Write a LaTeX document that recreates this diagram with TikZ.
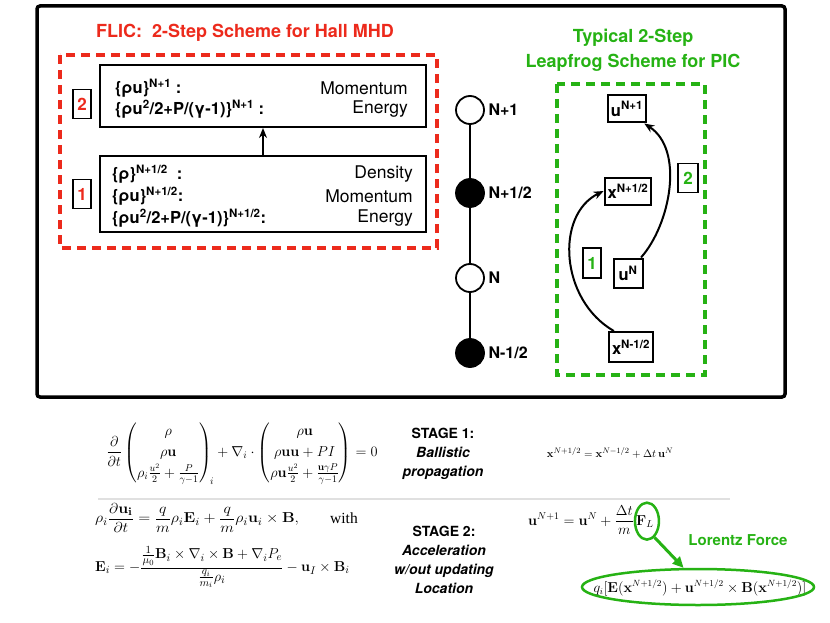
\documentclass[tikz,border=0pt]{standalone}
\usepackage{amsmath}
\usepackage[no-math]{fontspec}
\setmainfont{TeX Gyre Heros}
\newfontfamily\serifw{Liberation Serif}
\usetikzlibrary{shapes.geometric,arrows.meta,calc}
\definecolor{flicred}{RGB}{236,42,28}
\definecolor{picgreen}{RGB}{38,178,20}
\begin{document}
\begin{tikzpicture}[x=1pt,y=-1pt,
  bx/.style={draw, line width=2pt, inner sep=0pt},
  numbox/.style={draw, line width=1.8pt, minimum width=18pt, minimum height=29pt, inner sep=0pt, font=\bfseries\fontsize{17}{17}\selectfont},
  dot/.style={circle, draw, line width=1.8pt, minimum size=28pt, inner sep=0pt},
  tlabel/.style={anchor=west, font=\bfseries\fontsize{16}{16}\selectfont},
  lt/.style={anchor=west, inner sep=0pt, font=\bfseries\fontsize{16.5}{16.5}\selectfont},
  rt/.style={anchor=east, inner sep=0pt, font=\fontsize{17.5}{17.5}\selectfont},
  pic/.style={draw, line width=2pt, inner sep=3pt, minimum height=27pt, font=\bfseries\fontsize{16.5}{16.5}\selectfont},
  arr/.style={line width=2pt, -{Stealth[length=10pt,width=8pt]}},
  dashframe/.style={line width=3.5pt, dash pattern=on 9pt off 6pt},
  mth/.style={inner sep=0pt, font=\fontsize{13}{15}\selectfont},
  stage/.style={align=center, font=\bfseries\fontsize{14}{19}\selectfont}
]
\useasboundingbox (0,0) rectangle (830,623);

% outer frame
\draw[line width=3.5pt, rounded corners=3pt] (37,6) rectangle (785,397);

% ---------- FLIC part ----------
\node[text=flicred, font=\bfseries\fontsize{18}{20}\selectfont] (fltitle) at (245,33) {FLIC:\ \ 2-Step Scheme for Hall MHD};
\draw[flicred, dashframe] (60,55) rectangle (437,248);

\node[bx, minimum width=326pt, minimum height=62pt] (box2) at (263,96) {};
\node[bx, minimum width=326pt, minimum height=76pt] (box1) at (263,194) {};
\draw[arr] (box1.north) -- (box2.south);

\node[numbox, text=flicred] (n2) at (82,104) {2};
\node[numbox, text=flicred] (n1) at (82,194) {1};

\node[lt] (b2a) at (115,88) {\{ρu\}\textsuperscript{N+1} :};
\node[lt] (b2b) at (115,109) {\{ρu\textsuperscript{2}/2+P/(γ-1)\}\textsuperscript{N+1} :};
\node[rt] (b2c) at (408,88) {Momentum};
\node[rt] (b2d) at (408,109) {Energy};

\node[lt] (b1a) at (112,174) {\{ρ\}\textsuperscript{N+1/2}\ \ :};
\node[lt] (b1b) at (112,196) {\{ρu\}\textsuperscript{N+1/2}:};
\node[lt] (b1c) at (112,218) {\{ρu\textsuperscript{2}/2+P/(γ-1)\}\textsuperscript{N+1/2}:};
\node[rt] (b1d) at (413,174) {Density};
\node[rt] (b1e) at (413,196) {Momentum};
\node[rt] (b1f) at (413,218) {Energy};

% ---------- time line ----------
\node[dot, fill=white] (t1) at (470,110) {};
\node[dot, fill=black] (t2) at (470,193) {};
\node[dot, fill=white] (t3) at (470,278) {};
\node[dot, fill=black] (t4) at (470,353) {};
\draw[line width=1.8pt] (t1) -- (t2) -- (t3) -- (t4);
\node[tlabel] (l1) at (485,110) {N+1};
\node[tlabel] (l2) at (485,193) {N+1/2};
\node[tlabel] (l3) at (485,278) {N};
\node[tlabel] (l4) at (485,353) {N-1/2};

% ---------- PIC part ----------
\node[text=picgreen, align=center, font=\bfseries\fontsize{18}{25}\selectfont] (pictitle) at (633,50) {Typical 2-Step\\Leapfrog Scheme for PIC};
\draw[picgreen, dashframe] (557,84) rectangle (705,375);

\node[pic] (uNp) at (627,109) {u\textsuperscript{N+1}};
\node[pic] (xNp) at (628,191) {x\textsuperscript{N+1/2}};
\node[pic, minimum width=29pt, minimum height=29pt] (uN) at (628,273) {u\textsuperscript{N}};
\node[pic, minimum height=30pt] (xNm) at (631,347) {x\textsuperscript{N-1/2}};

\node[numbox, text=picgreen, minimum height=30pt] (g1) at (592,263) {1};
\node[numbox, text=picgreen, minimum width=20pt] (g2) at (688,178) {2};

\draw[arr] (xNm.137) .. controls (560,300) and (555,215) .. (xNp.west);
\draw[arr] (uN.50) .. controls (670,225) and (685,150) .. (uNp.-40);

% ---------- equations ----------
\draw[black!12, line width=1.5pt] (98,499) -- (730,499);

\node[mth, font=\fontsize{14}{16}\selectfont] (eq1) at (242,453) {\renewcommand{\arraystretch}{1.3}$\displaystyle
\frac{\partial}{\partial t}\begin{pmatrix}\rho\\ \rho\mathbf{u}\\ \rho_i\frac{u^2}{2}+\frac{P}{\gamma-1}\end{pmatrix}_{\!i}
+\nabla_i\cdot\begin{pmatrix}\rho\mathbf{u}\\ \rho\mathbf{u}\mathbf{u}+PI\\ \rho\mathbf{u}\frac{u^2}{2}+\frac{\mathbf{u}\gamma P}{\gamma-1}\end{pmatrix}=0$};

\node[stage] (st1) at (443,454) {STAGE 1:\\\itshape Ballistic\\\itshape propagation};
\node[mth, font=\fontsize{11}{13}\selectfont] (eqx) at (610,453) {$\mathbf{x}^{N+1/2}=\mathbf{x}^{N-1/2}+\Delta t\,\mathbf{u}^{N}$};

\node[mth, anchor=west, font=\fontsize{15.5}{17}\selectfont] (eq2) at (95,518) {\scalebox{1.1}[1]{$\displaystyle\rho_i\frac{\partial\mathbf{u_i}}{\partial t}=\frac{q}{m}\rho_i\mathbf{E}_i+\frac{q}{m}\rho_i\mathbf{u}_i\times\mathbf{B},$}};
\node[mth, anchor=west, font=\fontsize{15.5}{17}\selectfont] (with) at (330,518) {\serifw with};
\node[mth, anchor=west, font=\fontsize{15.5}{17}\selectfont] (eq3) at (95,567) {$\displaystyle\mathbf{E}_i=-\frac{\frac{1}{\mu_0}\mathbf{B}_i\times\nabla_i\times\mathbf{B}+\nabla_i P_e}{\frac{q_i}{m_i}\rho_i}-\mathbf{u}_I\times\mathbf{B}_i$};

\node[stage] (st2) at (444,560) {STAGE 2:\\\itshape Acceleration\\\itshape w/out updating\\\itshape Location};

\node[mth, anchor=base west, font=\fontsize{14}{16}\selectfont] (equ) at (528,525) {$\displaystyle\mathbf{u}^{N+1}=\mathbf{u}^{N}+\frac{\Delta t}{m}$};
\node[mth, anchor=base west, font=\fontsize{14}{16}\selectfont] (FL) at ($(equ.base east)+(2,0)$) {$\mathbf{F}_L$};
\node[draw=picgreen, line width=2.5pt, ellipse, minimum width=24pt, minimum height=37pt, inner sep=0pt] (FLell) at ($(FL.center)+(2,0)$) {};

\node[text=picgreen, font=\bfseries\fontsize{15}{15}\selectfont] (lor) at (738,540) {Lorentz Force};

\node[mth, font=\fontsize{13.3}{16}\selectfont] (lf) at (700,588) {$q_i[\mathbf{E}(\mathbf{x}^{N+1/2})+\mathbf{u}^{N+1/2}\times\mathbf{B}(\mathbf{x}^{N+1/2})]$};
\node[draw=picgreen, line width=2.5pt, ellipse, minimum width=232pt, minimum height=36pt, inner sep=0pt] (lfell) at (698,587) {};

\draw[picgreen, line width=3pt, -{Triangle[length=11pt,width=10pt]}] (FLell.-65) -- (lfell.127);
\end{tikzpicture}
\end{document}
